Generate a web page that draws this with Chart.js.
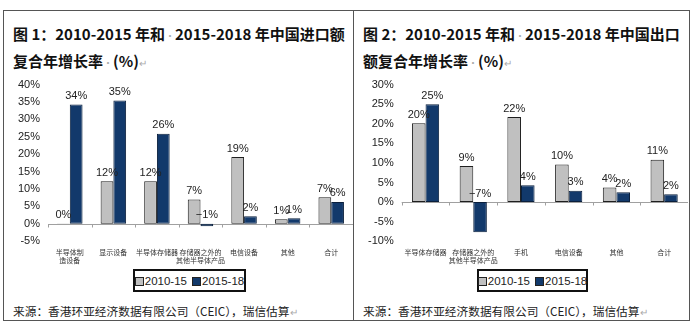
<!DOCTYPE html>
<html>
<head>
<meta charset="utf-8">
<script src="https://cdn.jsdelivr.net/npm/chart.js@4/dist/chart.umd.min.js"></script>
<style>
  body { margin: 0; width: 700px; height: 331px; background: #fff; position: relative; overflow: hidden; }
  .panel { position: absolute; top: 10px; height: 309px; border: 1px solid #555; box-sizing: content-box; }
  .title { position: absolute; left: 9px; font: bold 15px "Noto Sans CJK SC", sans-serif; color: #111; white-space: nowrap; }
  .mark { color: #aaa; font-weight: normal; font-size: 10px; }
  .source { position: absolute; left: 9px; top: 291px; font: 11.7px "Noto Sans CJK SC", sans-serif; color: #222; white-space: nowrap; }
  .box { position: absolute; }
  .legend { position: absolute; top: 269px; height: 19px; border: 2px solid #111; font: 11.5px "Liberation Sans", Arial, sans-serif; color: #222; display: flex; align-items: center; justify-content: center; gap: 5px; white-space: nowrap; z-index: 2; background: #fff; }
  .sw { display: inline-block; width: 7px; height: 7px; border: 1px solid #222; margin-right: 1px; vertical-align: -1px; }
</style>
</head>
<body>
<div class="panel" style="left:3px; width:349px;">
  <div class="title" style="top:12px;">图 1：2010-2015 年和<span class="mark">·</span>2015-2018 年中国进口额</div>
  <div class="title" style="top:39px;">复合年增长率<span class="mark">·</span>(%)<span class="mark">↵</span></div>
  <div class="source">来源：香港环亚经济数据有限公司（CEIC），瑞信估算<span class="mark">↵</span></div>
</div>
<div class="panel" style="left:353px; width:335px;">
  <div class="title" style="top:12px;">图 2：2010-2015 年和<span class="mark">·</span>2015-2018 年中国出口</div>
  <div class="title" style="top:39px;">额复合年增长率<span class="mark">·</span>(%)<span class="mark">↵</span></div>
  <div class="source">来源：香港环亚经济数据有限公司（CEIC），瑞信估算<span class="mark">↵</span></div>
</div>

<div class="box" style="left:4px; top:70px; width:349px; height:202px;"><canvas id="importChart"></canvas></div>
<div class="box" style="left:354px; top:70px; width:334px; height:202px;"><canvas id="exportChart"></canvas></div>

<div class="legend" style="left:133px; width:109px;">
  <span><span class="sw" style="background:#c0c0c0"></span>2010-15</span>
  <span><span class="sw" style="background:#12396b"></span>2015-18</span>
</div>
<div class="legend" style="left:477px; width:107px;">
  <span><span class="sw" style="background:#c0c0c0"></span>2010-15</span>
  <span><span class="sw" style="background:#12396b"></span>2015-18</span>
</div>

<script>
// Chart 1: imports
const importCategories = [
  ["半导体制", "造设备"],
  "显示设备",
  "半导体存储器",
  ["存储器之外的", "其他半导体产品"],
  "电信设备",
  "其他",
  "合计",
];
const import2010 = [0.1, 12.2, 12.2, 7.0, 19.2, 1.3, 7.6];
const import2015 = [34.3, 35.4, 25.9, -0.7, 2.2, 1.6, 6.3];
const import2010Labels = ["0%", "12%", "12%", "7%", "19%", "1%", "7%"];
const import2015Labels = ["34%", "35%", "26%", "−1%", "2%", "1%", "6%"];

// Chart 2: exports
const exportCategories = [
  "半导体存储器",
  ["存储器之外的", "其他半导体产品"],
  "手机",
  "电信设备",
  "其他",
  "合计",
];
const export2010 = [20.1, 9.2, 21.7, 9.6, 3.7, 10.8];
const export2015 = [25.0, -7.7, 4.3, 2.9, 2.5, 2.0];
const export2010Labels = ["20%", "9%", "22%", "10%", "4%", "11%"];
const export2015Labels = ["25%", "−7%", "4%", "3%", "2%", "2%"];

const colors = {
  gray: "#c0c0c0",
  grayBorder: "#1e1e1e",
  navy: "#12396b",
  navyBorder: "#0a1f3c",
  axis: "#a0a0a0",
  text: "#222",
};

// zero line with small tick marks between categories
const zeroAxis = {
  id: "zeroAxis",
  beforeDatasetsDraw(chart) {
    const { ctx, scales } = chart;
    const y0 = Math.round(scales.y.getPixelForValue(0)) + 0.5;
    const x = scales.x;
    ctx.save();
    ctx.strokeStyle = colors.axis;
    ctx.lineWidth = 1;
    ctx.beginPath();
    ctx.moveTo(x.left, y0);
    ctx.lineTo(x.right, y0);
    const n = chart.data.labels.length;
    for (let i = 0; i <= n; i++) {
      const px = Math.round(x.getPixelForValue(i - 0.5)) + 0.5;
      ctx.moveTo(px, y0);
      ctx.lineTo(px, y0 + 3);
    }
    ctx.stroke();
    ctx.restore();
  },
};

// value labels above the bars (negative ones sit above the zero line)
const barLabels = {
  id: "barLabels",
  afterDatasetsDraw(chart) {
    const { ctx, scales } = chart;
    const y0 = scales.y.getPixelForValue(0);
    ctx.save();
    ctx.font = '11px "Liberation Sans", Arial, sans-serif';
    ctx.fillStyle = colors.text;
    ctx.textAlign = "center";
    ctx.textBaseline = "bottom";
    chart.data.datasets.forEach((ds, di) => {
      chart.getDatasetMeta(di).data.forEach((bar, i) => {
        const top = ds.data[i] >= 0 ? bar.y : y0;
        ctx.fillText(ds.labelsText[i], bar.x, top - 3);
      });
    });
    ctx.restore();
  },
};

function makeChart(id, labels, first, second, firstText, secondText, min, max, catPct, padLeft) {
  const ctx = document.getElementById(id).getContext("2d");
  return new Chart(ctx, {
    type: "bar",
    data: {
      labels: labels,
      datasets: [
        {
          label: "2010-15",
          data: first,
          labelsText: firstText,
          backgroundColor: colors.gray,
          borderColor: colors.grayBorder,
          borderWidth: 1,
          borderSkipped: false,
        },
        {
          label: "2015-18",
          data: second,
          labelsText: secondText,
          backgroundColor: colors.navy,
          borderColor: colors.navyBorder,
          borderWidth: 1,
          borderSkipped: false,
        },
      ],
    },
    options: {
      responsive: true,
      maintainAspectRatio: false,
      animation: false,
      datasets: {
        bar: { categoryPercentage: catPct, barPercentage: 1.0 },
      },
      layout: { padding: { left: padLeft, top: 11, right: 0, bottom: 0 } },
      plugins: {
        legend: { display: false },
        tooltip: { enabled: false },
      },
      scales: {
        x: {
          grid: { display: false, drawTicks: false },
          border: { display: false },
          ticks: {
            autoSkip: false,
            maxRotation: 0,
            padding: 7,
            color: "#333",
            font: { family: '"Noto Sans CJK SC", sans-serif', size: 7 },
          },
        },
        y: {
          min: min,
          max: max,
          grid: { display: false, drawTicks: false },
          border: { display: false },
          ticks: {
            stepSize: 5,
            padding: 8,
            color: colors.text,
            font: { family: '"Liberation Sans", Arial, sans-serif', size: 11 },
            callback: (v) => v + "%",
          },
        },
      },
    },
    plugins: [zeroAxis, barLabels],
  });
}

makeChart("importChart", importCategories, import2010, import2015,
  import2010Labels, import2015Labels, -5, 40, 0.585, 6);
makeChart("exportChart", exportCategories, export2010, export2015,
  export2010Labels, export2015Labels, -10, 30, 0.57, 6);
</script>
</body>
</html>
